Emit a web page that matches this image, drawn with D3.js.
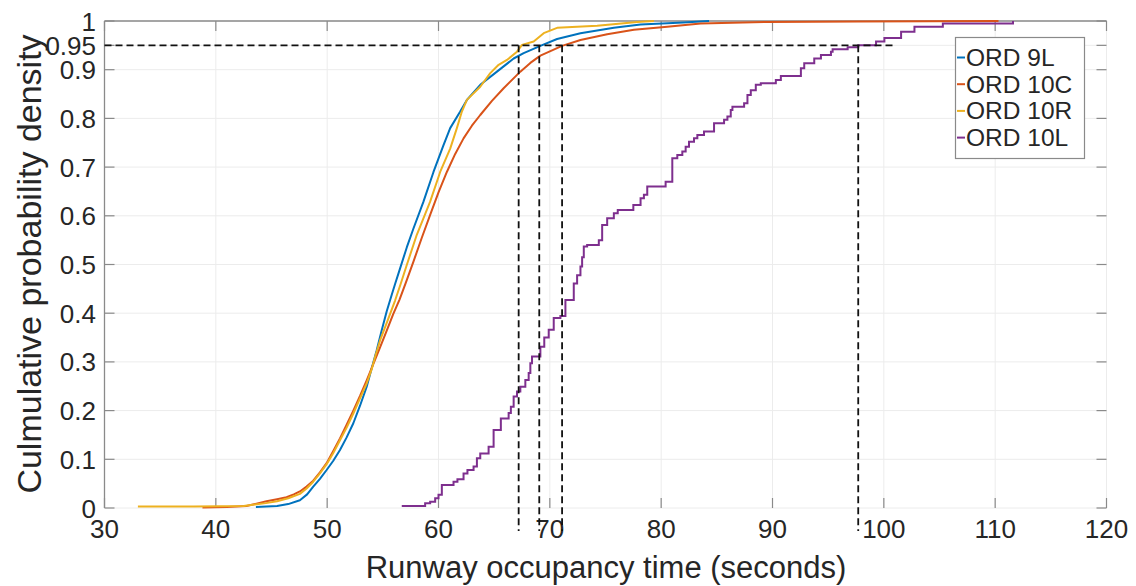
<!DOCTYPE html>
<html>
<head>
<meta charset="utf-8">
<script src="https://cdn.jsdelivr.net/npm/d3@7"></script>
<style>
  html, body { margin: 0; padding: 0; background: #fff; }
  svg { display: block; }
  text { font-family: "Liberation Sans", Arial, sans-serif; fill: #262626; }
</style>
</head>
<body>
<svg id="chart" width="1136" height="586"></svg>
<script>
// Empirical CDFs of runway occupancy time per runway: [seconds, cumulative probability]
const ord9L = [[43.6,0.002],[45.5,0.004],[46.5,0.008],[47.55,0.016],[48.2,0.028],[48.75,0.044],[49.35,0.060],[49.95,0.078],[50.55,0.097],[51.15,0.119],[51.75,0.145],[52.35,0.174],[52.95,0.210],[53.55,0.249],[54.0,0.287],[54.45,0.324],[54.9,0.365],[55.35,0.404],[55.8,0.438],[56.1,0.460],[56.55,0.492],[57.15,0.535],[57.75,0.574],[58.65,0.629],[59.55,0.690],[60.45,0.745],[61.05,0.780],[61.95,0.814],[62.55,0.838],[63.75,0.869],[65.25,0.896],[66.75,0.923],[67.65,0.934],[69.15,0.949],[70.65,0.963],[72.75,0.975],[75.75,0.986],[78.15,0.993],[82.0,0.997],[84.3,1.0]];

const ord10C = [[38.8,0.001],[41.0,0.002],[42.75,0.004],[43.65,0.009],[44.55,0.014],[45.5,0.018],[46.35,0.022],[47.0,0.028],[47.55,0.034],[48.15,0.044],[48.75,0.056],[49.35,0.073],[49.95,0.092],[50.55,0.117],[51.15,0.143],[51.75,0.171],[52.35,0.200],[52.95,0.230],[53.55,0.262],[54.15,0.296],[54.75,0.330],[55.35,0.364],[55.95,0.399],[56.5,0.428],[57.1,0.465],[57.75,0.506],[58.5,0.555],[59.25,0.602],[60.0,0.648],[60.75,0.690],[61.5,0.727],[62.25,0.759],[63.0,0.785],[63.75,0.807],[64.8,0.836],[65.85,0.862],[67.35,0.896],[68.25,0.914],[69.15,0.929],[71.1,0.949],[72.75,0.961],[75.15,0.973],[77.55,0.982],[80.55,0.988],[83.55,0.995],[89.55,0.998],[97.65,0.999],[110.3,1.0]];

const ord10R = [[33.0,0.003],[38.0,0.003],[42.5,0.004],[43.5,0.007],[44.5,0.010],[45.5,0.014],[46.5,0.020],[47.55,0.029],[48.15,0.040],[48.75,0.054],[49.35,0.071],[49.95,0.090],[50.55,0.113],[51.15,0.139],[51.75,0.165],[52.35,0.194],[52.95,0.225],[53.55,0.256],[54.0,0.285],[54.3,0.310],[54.75,0.344],[55.35,0.380],[56.1,0.426],[56.6,0.460],[57.15,0.499],[58.05,0.561],[59.25,0.629],[60.15,0.690],[61.05,0.738],[61.65,0.780],[62.1,0.814],[62.55,0.838],[63.75,0.865],[64.65,0.893],[65.4,0.910],[66.15,0.920],[67.05,0.937],[67.5,0.951],[68.55,0.958],[69.45,0.975],[70.65,0.986],[74.25,0.990],[77.85,0.998],[79.35,1.0]];

const ord10L = [[56.7,0.004],[58.8,0.010],[59.25,0.013],[59.7,0.020],[60.0,0.027],[60.3,0.047],[61.35,0.054],[61.7,0.059],[62.25,0.071],[62.6,0.078],[63.15,0.085],[63.45,0.102],[63.75,0.112],[64.5,0.126],[64.95,0.160],[65.6,0.184],[66.3,0.195],[66.5,0.208],[66.75,0.229],[67.05,0.239],[67.35,0.249],[67.8,0.263],[68.1,0.277],[68.25,0.297],[68.4,0.311],[69.15,0.331],[69.5,0.350],[69.9,0.366],[70.35,0.390],[70.95,0.394],[71.4,0.427],[72.15,0.461],[72.45,0.478],[72.75,0.496],[72.9,0.515],[73.05,0.537],[73.35,0.540],[74.4,0.550],[74.7,0.581],[75.15,0.595],[75.75,0.605],[76.1,0.612],[77.5,0.622],[78.15,0.636],[78.45,0.643],[78.75,0.660],[80.4,0.670],[81.0,0.718],[81.45,0.725],[81.9,0.732],[82.2,0.742],[82.5,0.752],[82.95,0.759],[83.25,0.766],[83.85,0.773],[84.75,0.790],[85.65,0.797],[85.95,0.804],[86.25,0.817],[86.4,0.824],[87.45,0.831],[87.75,0.848],[88.05,0.858],[88.5,0.869],[88.95,0.872],[90.3,0.879],[90.75,0.887],[92.55,0.903],[92.85,0.913],[93.75,0.923],[94.35,0.930],[95.25,0.937],[95.4,0.942],[96.75,0.946],[97.7,0.950],[99.3,0.958],[100.05,0.965],[101.55,0.978],[102.75,0.988],[105.3,0.995],[111.6,1.0]];

const seriesNames = ["ORD 9L", "ORD 10C", "ORD 10R", "ORD 10L"];
const seriesColors = ["#0072BD", "#D95319", "#EDB120", "#7E2F8E"];

// 95th-percentile markers
const percentileLevel = 0.95;
const percentileTimes = [67.2, 69.05, 71.1, 97.7];
const percentileLineEnd = 101;
const percentileLineBottom = -0.047;

const xTicks = [30, 40, 50, 60, 70, 80, 90, 100, 110, 120];
const yTicks = [0, 0.1, 0.2, 0.3, 0.4, 0.5, 0.6, 0.7, 0.8, 0.9, 0.95, 1];
const yTickLabels = ["0", "0.1", "0.2", "0.3", "0.4", "0.5", "0.6", "0.7", "0.8", "0.9", "0.95", "1"];

const svg = d3.select("#chart");
const plotLeft = 104.5, plotRight = 1106.5, plotTop = 21, plotBottom = 508;

const x = d3.scaleLinear().domain([30, 120]).range([plotLeft, plotRight]);
const y = d3.scaleLinear().domain([0, 1]).range([plotBottom, plotTop]);

// grid
const grid = svg.append("g");
grid.selectAll("line.gx").data(xTicks).join("line")
  .attr("x1", d => x(d)).attr("x2", d => x(d)).attr("y1", plotTop).attr("y2", plotBottom)
  .attr("stroke", "#ececec").attr("stroke-width", 1);
grid.selectAll("line.gy").data(yTicks).join("line")
  .attr("y1", d => y(d)).attr("y2", d => y(d)).attr("x1", plotLeft).attr("x2", plotRight)
  .attr("stroke", "#ececec").attr("stroke-width", 1);

// inward tick marks on all four sides
const tickLen = 10;
const ticks = svg.append("g").attr("stroke", "#8a8a8a").attr("stroke-width", 1.2);
ticks.selectAll("line.bt").data(xTicks).join("line")
  .attr("x1", d => x(d)).attr("x2", d => x(d)).attr("y1", plotBottom).attr("y2", plotBottom - tickLen);
ticks.selectAll("line.tt").data(xTicks).join("line")
  .attr("x1", d => x(d)).attr("x2", d => x(d)).attr("y1", plotTop).attr("y2", plotTop + tickLen);
ticks.selectAll("line.lt").data(yTicks).join("line")
  .attr("y1", d => y(d)).attr("y2", d => y(d)).attr("x1", plotLeft).attr("x2", plotLeft + tickLen);
ticks.selectAll("line.rt").data(yTicks).join("line")
  .attr("y1", d => y(d)).attr("y2", d => y(d)).attr("x1", plotRight).attr("x2", plotRight - tickLen);

// axis lines (left and top)
svg.append("line").attr("x1", plotLeft).attr("x2", plotLeft).attr("y1", plotTop).attr("y2", plotBottom)
  .attr("stroke", "#8a8a8a").attr("stroke-width", 1.3);
svg.append("line").attr("x1", plotLeft).attr("x2", plotRight).attr("y1", plotTop).attr("y2", plotTop)
  .attr("stroke", "#8a8a8a").attr("stroke-width", 1.3);

// tick labels
svg.append("g").selectAll("text").data(xTicks).join("text")
  .attr("x", d => x(d)).attr("y", 538)
  .attr("text-anchor", "middle").attr("font-size", 26)
  .text(d => d);
svg.append("g").selectAll("text").data(yTicks).join("text")
  .attr("x", 96).attr("y", d => y(d) + 9.5)
  .attr("text-anchor", "end").attr("font-size", 26)
  .text((d, i) => yTickLabels[i]);

// axis titles
svg.append("text").attr("x", 606).attr("y", 578)
  .attr("text-anchor", "middle").attr("font-size", 31)
  .text("Runway occupancy time (seconds)");
svg.append("text").attr("transform", "translate(41,264) rotate(-90)")
  .attr("text-anchor", "middle").attr("font-size", 34)
  .text("Culmulative probability density");

// curves
svg.append("clipPath").attr("id", "plotClip").append("rect")
  .attr("x", plotLeft).attr("y", plotTop - 3).attr("width", plotRight - plotLeft).attr("height", plotBottom - plotTop + 6);
const curves = svg.append("g").attr("clip-path", "url(#plotClip)");
const line = d3.line().x(d => x(d[0])).y(d => y(d[1]));
const stepLine = d3.line().x(d => x(d[0])).y(d => y(d[1])).curve(d3.curveStepAfter);

[ord9L, ord10C, ord10R].forEach((s, i) => {
  curves.append("path").datum(s).attr("d", line)
    .attr("fill", "none").attr("stroke", seriesColors[i]).attr("stroke-width", 2)
    .attr("stroke-linejoin", "round");
});
curves.append("path").datum(ord10L).attr("d", stepLine)
  .attr("fill", "none").attr("stroke", seriesColors[3]).attr("stroke-width", 2);

// 95th percentile guides
const guides = svg.append("g").attr("stroke", "#111").attr("stroke-width", 1.8)
  .attr("stroke-dasharray", "7,4").attr("fill", "none");
guides.append("line").attr("x1", x(30)).attr("x2", x(percentileLineEnd))
  .attr("y1", y(percentileLevel)).attr("y2", y(percentileLevel));
guides.selectAll("line.v").data(percentileTimes).join("line")
  .attr("x1", d => x(d)).attr("x2", d => x(d))
  .attr("y1", y(percentileLevel)).attr("y2", y(percentileLineBottom));

// legend
const lg = svg.append("g");
lg.append("rect").attr("x", 955.5).attr("y", 37.5).attr("width", 129).attr("height", 121)
  .attr("fill", "#fff").attr("stroke", "#8a8a8a").attr("stroke-width", 1.2);
seriesNames.forEach((name, i) => {
  const cy = 57.5 + i * 26.7;
  lg.append("line").attr("x1", 957).attr("x2", 965).attr("y1", cy).attr("y2", cy)
    .attr("stroke", seriesColors[i]).attr("stroke-width", 2);
  lg.append("text").attr("x", 966).attr("y", cy + 8.5).attr("font-size", 24.5).text(name);
});
</script>
</body>
</html>
